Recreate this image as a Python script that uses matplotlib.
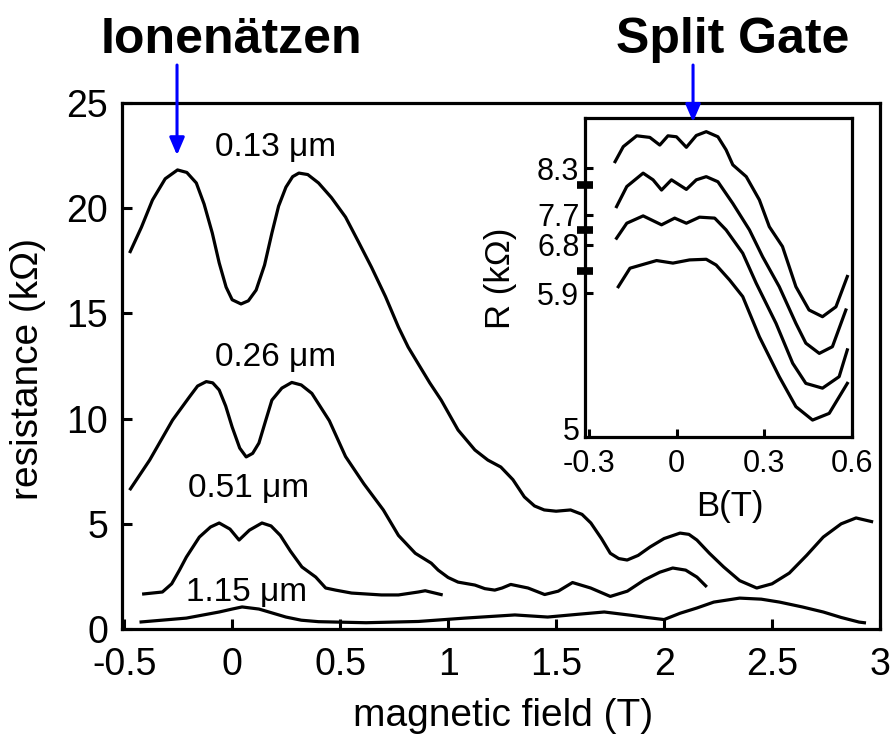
import matplotlib.pyplot as plt

plt.rcParams['font.family'] = ['Liberation Sans', 'DejaVu Sans']

# main panel: resistance (kOhm) vs magnetic field (T), one trace per width
b_013 = [-0.475, -0.42, -0.369, -0.31, -0.253, -0.21, -0.166, -0.13, -0.092, -0.06,
         -0.028, 0.0, 0.041, 0.075, 0.111, 0.15, 0.184, 0.215, 0.249, 0.28,
         0.309, 0.35, 0.40, 0.46, 0.525, 0.585, 0.645, 0.71, 0.77, 0.815, 0.862,
         0.915, 0.968, 1.046, 1.124, 1.184, 1.244, 1.30, 1.353, 1.40, 1.445, 1.50,
         1.567, 1.62, 1.661, 1.71, 1.751, 1.79, 1.829, 1.88, 1.935, 2.0, 2.074, 2.115,
         2.152, 2.21, 2.276, 2.35, 2.429, 2.50, 2.58, 2.66, 2.737, 2.82, 2.889, 2.968]
r_013 = [17.87, 19.1, 20.39, 21.4, 21.82, 21.7, 21.2, 20.2, 18.82, 17.4,
         16.25, 15.65, 15.45, 15.6, 16.11, 17.3, 18.82, 20.1, 21.0, 21.5,
         21.67, 21.6, 21.2, 20.5, 19.58, 18.4, 17.2, 15.8, 14.35, 13.4, 12.6,
         11.7, 10.88, 9.46, 8.51, 8.03, 7.7, 7.1, 6.28, 5.85, 5.66, 5.6,
         5.66, 5.45, 5.04, 4.3, 3.6, 3.35, 3.28, 3.5, 3.9, 4.3, 4.56, 4.5,
         4.23, 3.6, 2.95, 2.3, 1.95, 2.15, 2.66, 3.5, 4.37, 5.0, 5.28, 5.09]

b_026 = [-0.475, -0.382, -0.276, -0.198, -0.16, -0.12, -0.09, -0.06, -0.03, 0.0,
         0.035, 0.065, 0.095, 0.124, 0.155, 0.184, 0.23, 0.276, 0.32, 0.369,
         0.45, 0.525, 0.61, 0.70, 0.77, 0.848, 0.922, 0.954, 1.0, 1.046, 1.124,
         1.17, 1.216, 1.25, 1.29, 1.37, 1.447, 1.51, 1.576, 1.66, 1.751, 1.83,
         1.908, 1.98, 2.04, 2.10, 2.152, 2.198]
r_026 = [6.6, 8.03, 9.93, 11.03, 11.55, 11.76, 11.7, 11.36, 10.6, 9.6,
         8.6, 8.18, 8.35, 8.84, 9.9, 10.88, 11.45, 11.72, 11.6, 11.2,
         9.9, 8.2, 6.9, 5.66, 4.45, 3.6, 3.13, 2.8, 2.45, 2.23, 2.09,
         1.92, 1.85, 1.95, 2.12, 1.95, 1.64, 1.8, 2.21, 1.95, 1.55, 1.8,
         2.33, 2.7, 2.9, 2.8, 2.47, 2.0]

b_051 = [-0.417, -0.323, -0.28, -0.244, -0.212, -0.152, -0.10, -0.06, -0.01, 0.032,
         0.08, 0.138, 0.18, 0.223, 0.27, 0.323, 0.387, 0.433, 0.479, 0.553,
         0.691, 0.77, 0.862, 0.894, 0.975]
r_051 = [1.66, 1.76, 2.15, 2.8, 3.42, 4.37, 4.85, 5.04, 4.75, 4.23,
         4.7, 5.04, 4.9, 4.45, 3.7, 2.95, 2.47, 1.95, 1.85, 1.71,
         1.62, 1.62, 1.76, 1.82, 1.62]

b_115 = [-0.429, -0.212, -0.06, 0.0, 0.046, 0.124, 0.19, 0.249, 0.32, 0.40, 0.62,
         0.862, 1.078, 1.309, 1.461, 1.60, 1.723, 1.85, 1.92, 2.0, 2.074, 2.152,
         2.23, 2.35, 2.45, 2.535, 2.64, 2.737, 2.82, 2.903, 2.935]
r_115 = [0.33, 0.52, 0.81, 0.95, 1.05, 0.95, 0.75, 0.57, 0.42, 0.35, 0.3,
         0.36, 0.52, 0.67, 0.57, 0.7, 0.81, 0.65, 0.55, 0.45, 0.75, 1.0,
         1.28, 1.47, 1.42, 1.28, 1.05, 0.81, 0.55, 0.33, 0.29]

width_labels = ['0.13 \u03bcm', '0.26 \u03bcm', '0.51 \u03bcm', '1.15 \u03bcm']
label_b = [0.20, 0.20, 0.078, 0.068]
label_r = [22.9, 12.9, 6.7, 1.76]

# inset: split gate traces, stacked with offsets (frame units 0..10)
ins_b1 = [-0.211, -0.183, -0.137, -0.092, -0.058, -0.030, -0.001, 0.033, 0.067, 0.101,
          0.141, 0.169, 0.192, 0.238, 0.283, 0.317, 0.362, 0.408, 0.453, 0.499,
          0.545, 0.584]
ins_r1 = [8.63, 9.10, 9.44, 9.39, 9.15, 9.44, 9.41, 9.08, 9.45, 9.57,
          9.41, 9.0, 8.53, 8.16, 7.43, 6.59, 5.97, 4.71, 3.98, 3.77,
          4.08, 5.03]
ins_b2 = [-0.206, -0.171, -0.115, -0.081, -0.052, -0.018, 0.033, 0.067, 0.101, 0.141,
          0.192, 0.249, 0.294, 0.351, 0.408, 0.442, 0.488, 0.533, 0.579]
ins_r2 = [7.22, 7.85, 8.27, 8.06, 7.74, 8.06, 7.76, 8.06, 8.16, 8.0,
          7.32, 6.49, 5.65, 4.71, 3.56, 2.94, 2.62, 2.83, 3.98]
ins_b3 = [-0.206, -0.171, -0.115, -0.052, -0.007, 0.033, 0.078, 0.130, 0.169, 0.226,
          0.272, 0.340, 0.397, 0.442, 0.499, 0.556, 0.584]
ins_r3 = [6.23, 6.70, 6.93, 6.65, 6.86, 6.70, 6.89, 6.86, 6.49, 5.76,
          4.82, 3.56, 2.31, 1.68, 1.53, 1.89, 2.73]
ins_b4 = [-0.200, -0.160, -0.069, -0.013, 0.044, 0.101, 0.135, 0.181, 0.226, 0.283,
          0.351, 0.408, 0.465, 0.522, 0.584]
ins_r4 = [4.71, 5.29, 5.53, 5.45, 5.55, 5.57, 5.39, 4.92, 4.40, 3.14,
          1.89, 0.95, 0.53, 0.74, 1.68]

ins_yticks = [0.25, 4.51, 6.02, 6.96, 8.43]
ins_ylabels = ['5', '5.9', '6.8', '7.7', '8.3']
ins_marks = [5.20, 6.49, 7.90]

fig = plt.figure(figsize=(8.9, 7.39), dpi=100)

ax = fig.add_axes([0.1371, 0.1488, 0.8517, 0.7118])
for b, r in [(b_013, r_013), (b_026, r_026), (b_051, r_051), (b_115, r_115)]:
    ax.plot(b, r, color='black', lw=2.3, solid_joinstyle='round', solid_capstyle='butt')
for txt, xb, yr in zip(width_labels, label_b, label_r):
    ax.text(xb, yr, txt, fontsize=24, ha='center', va='center')

ax.set_xlim(-0.51, 3.0)
ax.set_ylim(0, 25)
ax.set_xticks([-0.5, 0, 0.5, 1, 1.5, 2, 2.5, 3])
ax.set_xticklabels(['-0.5', '0', '0.5', '1', '1.5', '2', '2.5', '3'])
ax.set_yticks([0, 5, 10, 15, 20, 25])
ax.tick_params(direction='in', length=7, width=2.2, labelsize=27, pad=10)
ax.tick_params(axis='x', pad=13)
for s in ax.spines.values():
    s.set_linewidth(2.3)

fig.text(0.565, 0.031, 'magnetic field (T)', fontsize=28, ha='center', va='center')
fig.text(0.0315, 0.50, 'resistance (k\u03a9)', fontsize=28, ha='center', va='center',
         rotation=90)

# inset
ins = fig.add_axes([0.6573, 0.4087, 0.30, 0.4317])
for b, r in [(ins_b1, ins_r1), (ins_b2, ins_r2), (ins_b3, ins_r3), (ins_b4, ins_r4)]:
    ins.plot(b, r, color='black', lw=2.3, solid_joinstyle='round')
ins.set_xlim(-0.314, 0.6)
ins.set_ylim(0, 10)
ins.set_xticks([-0.3, 0, 0.3, 0.6])
ins.set_xticklabels(['-0.3', '0', '0.3', '0.6'])
ins.set_yticks(ins_yticks)
ins.set_yticklabels(ins_ylabels)
ins.set_yticks(ins_marks, minor=True)
ins.tick_params(direction='in', length=6, width=2.2, labelsize=22, pad=4)
ins.tick_params(axis='x', pad=9)
ins.tick_params(axis='y', which='minor', direction='inout', length=11, width=5.5)
for s in ins.spines.values():
    s.set_linewidth(2.3)
# the "5" label sits on the frame corner without its own tick mark
ins.yaxis.get_major_ticks()[0].tick1line.set_visible(False)

fig.text(0.820, 0.314, 'B(T)', fontsize=25, ha='center', va='center')
fig.text(0.5618, 0.624, 'R (k\u03a9)', fontsize=25, ha='center', va='center', rotation=90)

# sample-type headers with blue arrows
fig.text(0.2596, 0.928, 'Ionen\u00e4tzen', fontsize=36, fontweight='bold',
         ha='center', va='baseline')
fig.text(0.8236, 0.928, 'Split Gate', fontsize=36, fontweight='bold',
         ha='center', va='baseline')
for xa, ytip in [(0.1989, 0.790), (0.7787, 0.835)]:
    fig.add_artist(plt.Annotation(
        '', xy=(xa, ytip), xytext=(xa, 0.912), xycoords='figure fraction',
        arrowprops=dict(arrowstyle='-|>,head_length=0.7,head_width=0.3',
                        color='#0000ff', lw=2.2, mutation_scale=15,
                        shrinkA=0, shrinkB=0)))

fig.savefig('out.png', dpi=100)
